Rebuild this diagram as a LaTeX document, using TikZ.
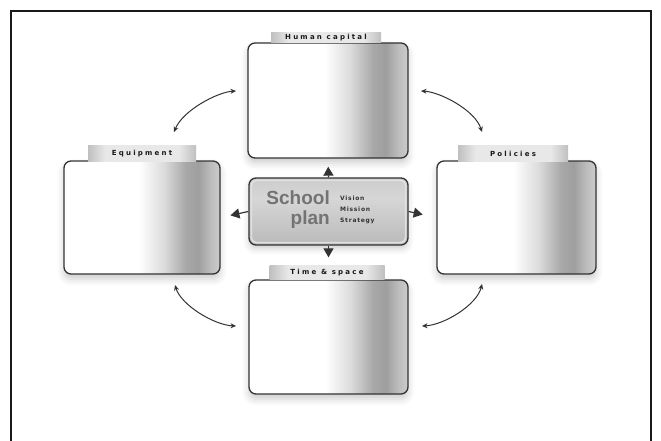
\documentclass[tikz,border=0pt]{standalone}
\usepackage{fontspec}
\usetikzlibrary{arrows.meta,shadows.blur,calc}
\newfontfamily\tabfont{DejaVu Sans}[LetterSpace=32]
\newfontfamily\smallfont{DejaVu Sans}[LetterSpace=12]
\newfontfamily\titlefont{Liberation Sans}

% white on the left half, a grey band towards the right, lighter at the edge
\pgfdeclarehorizontalshading{boxshade}{100bp}{color(0bp)=(white); color(25bp)=(white); color(49bp)=(white);
  color(57bp)=(black!14); color(64bp)=(black!34); color(68bp)=(black!38); color(72bp)=(black!26); color(75bp)=(black!20); color(100bp)=(black!20)}
% label tabs: grey ends, pale middle
\pgfdeclarehorizontalshading{tabshade}{100bp}{color(0bp)=(black!25); color(25bp)=(black!25); color(33bp)=(black!9);
  color(67bp)=(black!9); color(75bp)=(black!25); color(100bp)=(black!25)}
% central hub
\pgfdeclareverticalshading{hubshade}{100bp}{color(0bp)=(black!27); color(25bp)=(black!27); color(60bp)=(black!16); color(75bp)=(black!20); color(100bp)=(black!20)}

\begin{document}
\begin{tikzpicture}[x=1pt,y=-1pt,
  panel/.style={draw=black!80, line width=1.3pt, rounded corners=7pt, shading=boxshade, inner sep=0pt,
    blur shadow={shadow xshift=0pt, shadow yshift=-5pt, shadow blur radius=7pt, shadow opacity=20}},
  hub/.style={draw=black!80, line width=1.3pt, rounded corners=7pt, shading=hubshade, inner sep=0pt,
    minimum width=159pt, minimum height=67pt,
    blur shadow={shadow xshift=0pt, shadow yshift=-4pt, shadow blur radius=6pt, shadow opacity=18}},
  tabbox/.style={shading=tabshade, inner sep=0pt, font=\tabfont\bfseries\fontsize{7}{8}\selectfont, text=black!90},
  hubarrow/.style={draw=black!80, line width=1.2pt, -{Triangle[length=9pt,width=10pt]}},
  arc/.style={draw=black!80, line width=1pt, {Stealth[length=5.5pt,width=5pt]}-{Stealth[length=5.5pt,width=5pt]}},
  bigword/.style={font=\titlefont\bfseries\fontsize{19}{20}\selectfont, text=black!55, inner sep=0pt},
  smallword/.style={font=\smallfont\bfseries\fontsize{6}{7}\selectfont, text=black!80, inner sep=0pt}
]
\useasboundingbox (0,0) rectangle (661,441);

% outer frame, open at the bottom
\draw[line width=1.4pt, black!90] (11,441) -- (11,11) -- (651,11) -- (651,441);

% the four panels
\node[panel, minimum width=160pt, minimum height=115pt] (t) at (328,100.5) {};
\node[panel, minimum width=156pt, minimum height=113pt] (l) at (142,217.5) {};
\node[panel, minimum width=159pt, minimum height=113pt] (r) at (516.5,217.5) {};
\node[panel, minimum width=159pt, minimum height=114pt] (b) at (328.5,337) {};

% label tabs
\node[tabbox, minimum width=110pt, minimum height=10.5pt] (tt) at (326,37.5) {Human capital};
\node[tabbox, minimum width=108pt, minimum height=15pt] (lt) at (142,153.5) {Equipment};
\node[tabbox, minimum width=110pt, minimum height=15pt] (rt) at (513,153.5) {Policies};
\node[tabbox, minimum width=115pt, minimum height=14pt] (bt) at (327,272.5) {Time \& space};

% central hub
\node[hub] (c) at (328.5,211.5) {};
\draw[white!88!black, line width=1.6pt, rounded corners=5pt]
  ($(c.north west)+(3,3)$) rectangle ($(c.south east)+(-3,-3)$);
\node[bigword, anchor=base east] (w1) at (330,204.5) {School};
\node[bigword, anchor=base east] (w2) at (330,224.5) {plan};
\node[smallword, anchor=west] (s1) at (340,198) {Vision};
\node[smallword, anchor=west] (s2) at (340,209) {Mission};
\node[smallword, anchor=west] (s3) at (340,220.5) {Strategy};

% arrows from the hub
\draw[hubarrow, shorten >=8pt] (c.north) -- (t.south);
\draw[hubarrow, shorten >=22pt] (c.south) -- (b.north);
\draw[hubarrow, shorten >=10pt] (c.west) -- (l.east);
\draw[hubarrow, shorten >=14pt] (c.east) -- (r.west);

% curved links between neighbouring panels
\coordinate (a1) at (236,91);  \coordinate (a2) at (174,132);
\coordinate (b1) at (421,91);  \coordinate (b2) at (482,132);
\coordinate (c1) at (175,285); \coordinate (c2) at (236,326);
\coordinate (d1) at (482,284); \coordinate (d2) at (422,326);
\draw[arc] (a1) .. controls (218,92) and (183,110) .. (a2);
\draw[arc] (b1) .. controls (440,92) and (475,110) .. (b2);
\draw[arc] (c1) .. controls (181,305) and (214,325) .. (c2);
\draw[arc] (d1) .. controls (477,305) and (444,325) .. (d2);
\end{tikzpicture}
\end{document}
